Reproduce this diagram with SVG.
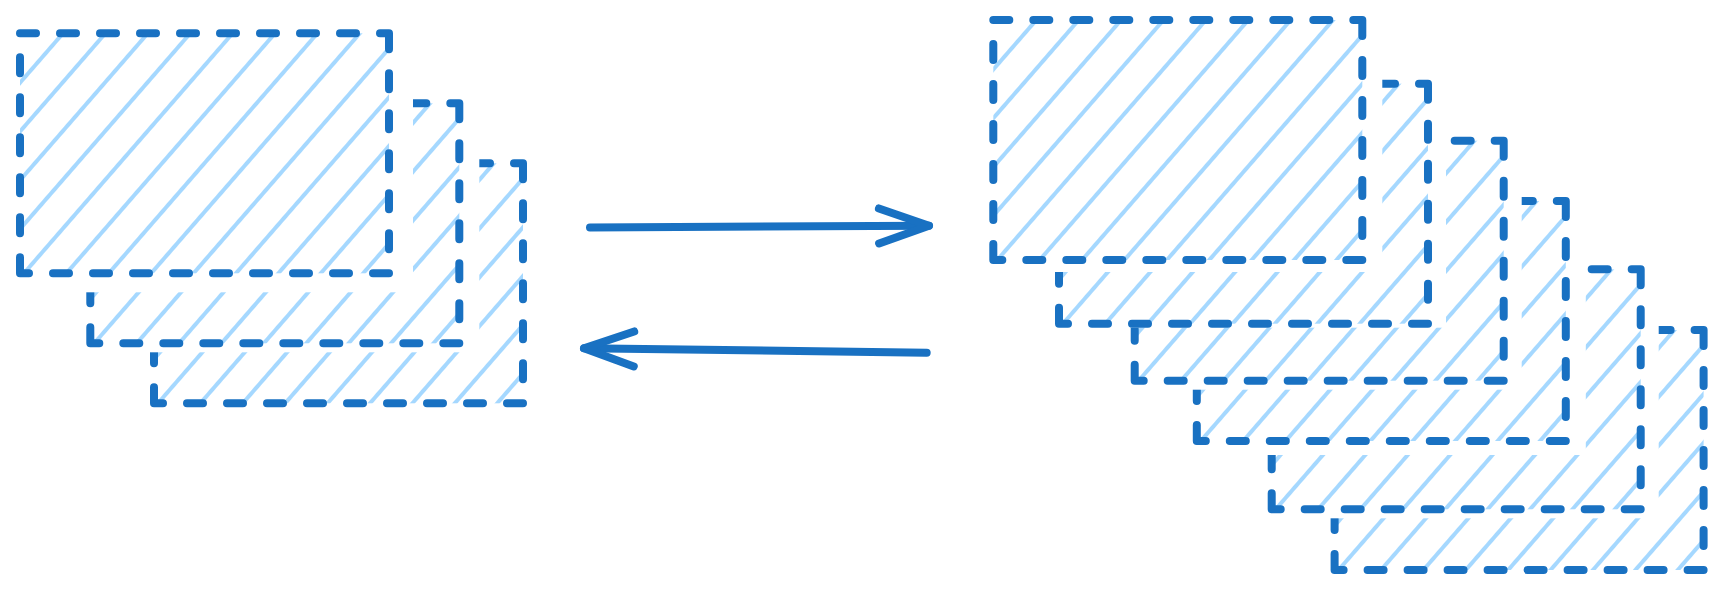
<svg xmlns="http://www.w3.org/2000/svg" width="1723" height="590" viewBox="0 0 1723 590">
<style>
.mask{fill:#ffffff}
.hatch{fill:url(#hatch)}
.border{fill:none;stroke:#1971c2;stroke-width:8;stroke-linecap:round;stroke-dasharray:16 24}
.conn{fill:none;stroke:#1971c2;stroke-width:8;stroke-linecap:round;stroke-linejoin:round}
</style>
<defs>
<pattern id="hatch" patternUnits="userSpaceOnUse" width="32" height="32" patternTransform="translate(21.8,0) rotate(41)">
<line x1="16" y1="-2" x2="16" y2="34" stroke="#a5d8ff" stroke-width="4"/>
</pattern>
<marker id="head" markerUnits="userSpaceOnUse" orient="auto" viewBox="-60 -25 70 50" markerWidth="70" markerHeight="50" refX="0" refY="0">
<path class="conn" d="M-50,-17.5 L0,0 L-50,17.5"/>
</marker>
</defs>
<rect width="1723" height="590" fill="#ffffff"/>
<g id="left-stack">
<g id="a3" transform="translate(154,163.3)">
<rect class="mask" x="-16" y="-16" width="405" height="270"/>
<rect class="hatch" width="369" height="240"/>
<path class="border" d="M0,0H369M369,0V240M369,240H0M0,240V0"/>
</g>
<g id="a2" transform="translate(90.3,103.3)">
<rect class="mask" x="-16" y="-16" width="405" height="265"/>
<rect class="hatch" width="369" height="240"/>
<path class="border" d="M0,0H369M369,0V240M369,240H0M0,240V0"/>
</g>
<g id="a1" transform="translate(20,33.3)">
<rect class="mask" x="-16" y="-16" width="409" height="275"/>
<rect class="hatch" width="369" height="240"/>
<path class="border" d="M0,0H369M369,0V240M369,240H0M0,240V0"/>
</g>
</g>
<g id="right-stack">
<g id="b6" transform="translate(1334.6,330)">
<rect class="mask" x="-16" y="-16" width="405" height="270"/>
<rect class="hatch" width="369" height="240"/>
<path class="border" d="M0,0H369M369,0V240M369,240H0M0,240V0"/>
</g>
<g id="b5" transform="translate(1271.7,269.3)">
<rect class="mask" x="-16" y="-16" width="403" height="265"/>
<rect class="hatch" width="369" height="240"/>
<path class="border" d="M0,0H369M369,0V240M369,240H0M0,240V0"/>
</g>
<g id="b4" transform="translate(1196.8,201)">
<rect class="mask" x="-16" y="-16" width="405" height="270"/>
<rect class="hatch" width="369" height="240"/>
<path class="border" d="M0,0H369M369,0V240M369,240H0M0,240V0"/>
</g>
<g id="b3" transform="translate(1134.7,140.7)">
<rect class="mask" x="-16" y="-16" width="403" height="265"/>
<rect class="hatch" width="369" height="240"/>
<path class="border" d="M0,0H369M369,0V240M369,240H0M0,240V0"/>
</g>
<g id="b2" transform="translate(1059,83.7)">
<rect class="mask" x="-16" y="-16" width="403" height="260"/>
<rect class="hatch" width="369" height="240"/>
<path class="border" d="M0,0H369M369,0V240M369,240H0M0,240V0"/>
</g>
<g id="b1" transform="translate(993.3,20)">
<rect class="mask" x="-16" y="-16" width="405" height="268"/>
<rect class="hatch" width="369" height="240"/>
<path class="border" d="M0,0H369M369,0V240M369,240H0M0,240V0"/>
</g>
</g>
<g id="connectors">
<path class="conn" d="M590,227.5 L929,225.7" marker-end="url(#head)"/>
<path class="conn" d="M926.7,352.7 L584,348.3" marker-end="url(#head)"/>
</g>
</svg>
